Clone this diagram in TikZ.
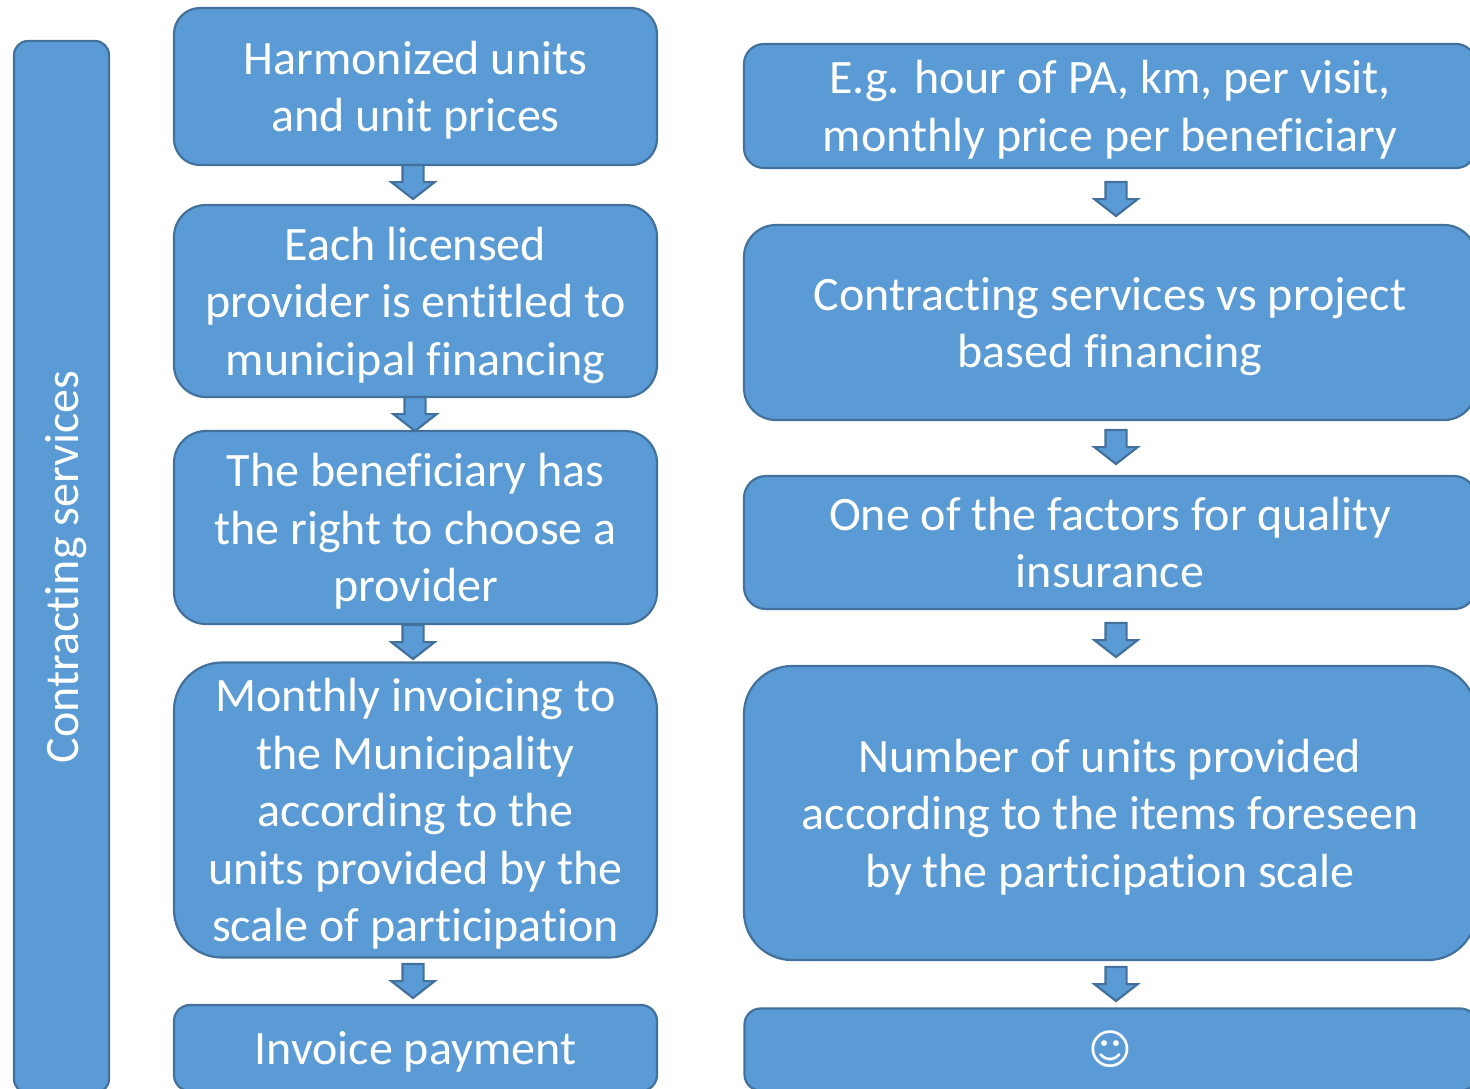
\documentclass[tikz,border=0pt]{standalone}
\usepackage{fontspec}
\setmainfont{Carlito}[RawFeature={-liga}]
\newfontfamily\symfont{DejaVu Sans}
\usetikzlibrary{shapes.arrows}
\definecolor{boxfill}{HTML}{5B9BD5}
\definecolor{boxline}{HTML}{41719C}
\newcommand\firstl{\rule{0pt}{24.5pt}}
\newcommand\lastl{\rule[-8pt]{0pt}{8pt}}
\tikzset{
  x=0.5pt,y=-0.5pt,
  flowbox/.style={draw=boxline,fill=boxfill,line width=1.1pt,text=white,align=center,inner sep=0pt,outer sep=0pt,
    font=\fontsize{24}{28.75}\selectfont},
  leftbox/.style={flowbox,minimum width=241.5pt},
  rightbox/.style={flowbox,minimum width=366pt},
  blockarrow/.style={single arrow,draw=boxline,fill=boxfill,line width=1.1pt,shape border rotate=270,
    single arrow head extend=5.5pt,single arrow tip angle=104,single arrow head indent=0pt,
    minimum width=20.5pt,minimum height=17pt,inner xsep=4.75pt,inner ysep=0pt,outer sep=0pt,anchor=tail}
}
\begin{document}
\begin{tikzpicture}
\useasboundingbox[clip] (0,0) rectangle (1470,1088);
\node[flowbox,rotate=90,minimum width=526pt,minimum height=47.5pt,rounded corners=7pt] (side) at (61.5,567) {\firstl\lastl Contracting services};

\node[leftbox,minimum height=78.5pt,rounded corners=13pt] (b1) at (415.5,86.5) {\firstl Harmonized units\\\lastl and unit prices};
\node[leftbox,minimum height=96pt,rounded corners=16pt] (b2) at (415.5,301) {\firstl Each licensed\\provider is entitled to\\\lastl municipal financing};
\node[leftbox,minimum height=96.5pt,rounded corners=16pt] (b3) at (415.5,527.5) {\firstl The beneficiary has\\the right to choose a\\\lastl provider};
\node[leftbox,minimum height=147pt,rounded corners=24pt] (b4) at (415.5,810) {\firstl Monthly invoicing to\\the Municipality\\according to the\\units provided by the\\\lastl scale of participation};
\node[leftbox,minimum height=43pt,rounded corners=8pt] (b5) at (415.5,1048) {\firstl\lastl Invoice payment};

\node[rightbox,minimum height=62pt,rounded corners=10pt] (r1) at (1110,106) {\firstl E.g. hour of PA, km, per visit,\\\lastl monthly price per beneficiary};
\node[rightbox,minimum height=97.5pt,rounded corners=16pt] (r2) at (1110,322.5) {\firstl Contracting services vs project\\\lastl based financing};
\node[rightbox,minimum height=66.5pt,rounded corners=11pt] (r3) at (1110,542.5) {\firstl One of the factors for quality\\\lastl insurance};
\node[rightbox,minimum height=147pt,rounded corners=24pt] (r4) at (1110,813) {\firstl Number of units provided\\according to the items foreseen\\\lastl by the participation scale};
\node[rightbox,minimum height=41pt,rounded corners=8pt] (r5) at (1110.5,1049.5) {\symfont\fontsize{21}{21}\selectfont ☺};

\node[blockarrow] (a1) at (413,165) {};
\node[blockarrow] (a2) at (415,397) {};
\node[blockarrow] (a3) at (413,625) {};
\node[blockarrow] (a4) at (413,964) {};
\node[blockarrow] (c1) at (1116,182) {};
\node[blockarrow] (c2) at (1116,430) {};
\node[blockarrow] (c3) at (1116,623) {};
\node[blockarrow] (c4) at (1116,967) {};
\end{tikzpicture}
\end{document}
